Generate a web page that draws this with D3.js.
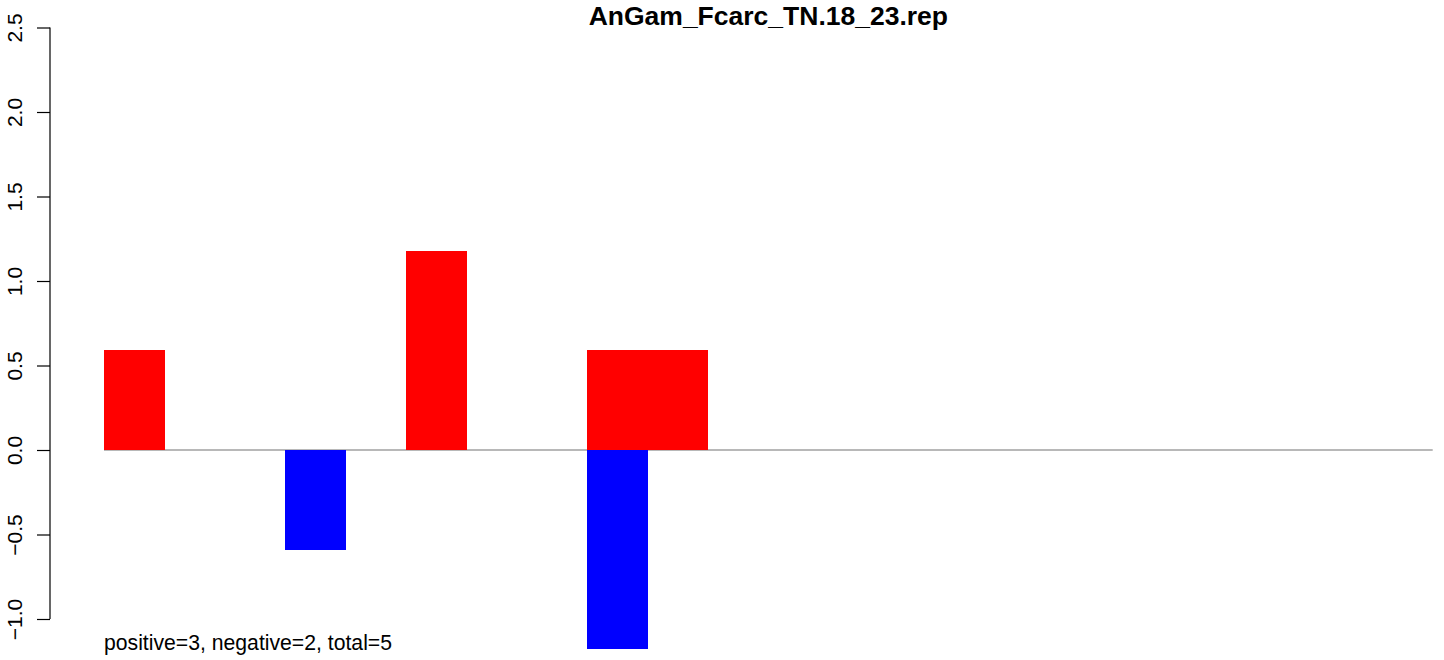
<!DOCTYPE html>
<html>
<head>
<meta charset="utf-8">
<script src="https://cdn.jsdelivr.net/npm/d3@7"></script>
<style>
  html, body { margin: 0; padding: 0; background: #fff; }
  svg { display: block; }
  text { font-family: "Liberation Sans", Arial, Helvetica, sans-serif; }
</style>
</head>
<body>
<script>
// ---- data ----
const title = "AnGam_Fcarc_TN.18_23.rep";
const footnote = "positive=3, negative=2, total=5";
const categories = ["1","2","3","4","5","6","7","8","9","10","11","12","13","14","15","16","17","18","19","20","21","22"];
const positiveValues = [0.59, 0, 0, 0, 0, 1.18, 0, 0, 0.59, 0.59, 0, 0, 0, 0, 0, 0, 0, 0, 0, 0, 0, 0];
const negativeValues = [0, 0, 0, -0.59, 0, 0, 0, 0, -1.18, 0, 0, 0, 0, 0, 0, 0, 0, 0, 0, 0, 0, 0];
const yTicks = [-1.0, -0.5, 0.0, 0.5, 1.0, 1.5, 2.0, 2.5];

// ---- layout ----
const W = 1444, H = 660;
const svg = d3.select("body").append("svg").attr("width", W).attr("height", H);

const x = d3.scaleBand().domain(categories).range([104, 1432.7]).padding(0);
const y = d3.scaleLinear().domain([-1, 2.5]).range([619, 27.5]);

// zero line
svg.append("line")
  .attr("x1", x.range()[0]).attr("x2", x.range()[1])
  .attr("y1", y(0)).attr("y2", y(0))
  .attr("stroke", "#a0a0a0").attr("stroke-width", 1.3);

// positive bars
svg.append("g").attr("shape-rendering", "crispEdges").selectAll("rect")
  .data(categories.map((c, i) => ({c, v: positiveValues[i]})).filter(d => d.v > 0))
  .join("rect")
  .attr("x", d => x(d.c)).attr("width", x.bandwidth() + 0.5)
  .attr("y", d => y(d.v)).attr("height", d => y(0) - y(d.v))
  .attr("fill", "#ff0000");

// negative bars
svg.append("g").attr("shape-rendering", "crispEdges").selectAll("rect")
  .data(categories.map((c, i) => ({c, v: negativeValues[i]})).filter(d => d.v < 0))
  .join("rect")
  .attr("x", d => x(d.c)).attr("width", x.bandwidth())
  .attr("y", y(0)).attr("height", d => y(d.v) - y(0))
  .attr("fill", "#0000ff");

// y axis
const fmt = v => (v < 0 ? "\u2212" : "") + Math.abs(v).toFixed(1);
const axis = d3.axisLeft(y).tickValues(yTicks).tickFormat(fmt).tickSize(13).tickPadding(0);
const gA = svg.append("g").attr("transform", "translate(50,0)").call(axis);
gA.select(".domain").attr("stroke", "#000").attr("stroke-width", 1.2)
  .attr("d", `M0,${y(2.5)}V${y(-1)}`);
gA.selectAll(".tick line").attr("stroke", "#000").attr("stroke-width", 1.2);
gA.selectAll(".tick text")
  .attr("font-size", 21)
  .attr("fill", "#000")
  .attr("x", null).attr("dy", null)
  .attr("text-anchor", "middle")
  .attr("transform", "translate(-28.5,0) rotate(-90)");

// title
svg.append("text")
  .attr("x", (x.range()[0] + x.range()[1]) / 2).attr("y", 25)
  .attr("text-anchor", "middle")
  .attr("font-size", 26.5).attr("font-weight", "bold")
  .attr("fill", "#000")
  .text(title);

// footnote
svg.append("text")
  .attr("x", 104).attr("y", 650)
  .attr("font-size", 21.2)
  .attr("fill", "#000")
  .text(footnote);
</script>
</body>
</html>
